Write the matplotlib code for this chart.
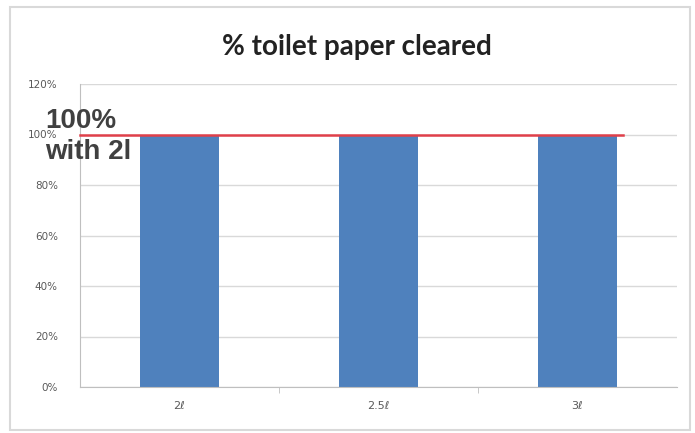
import matplotlib
matplotlib.use("Agg")
import matplotlib.pyplot as plt
from matplotlib.patches import Rectangle

categories = ["2ℓ", "2.5ℓ", "3ℓ"]
values = [100, 100, 100]
yticks = [0, 20, 40, 60, 80, 100, 120]
ref_value = 100

fig = plt.figure(figsize=(6.95, 4.33), dpi=100)
fig.patch.set_facecolor("white")
fig.patches.append(Rectangle((10/695, 1-430/433), 680/695, 423/433, transform=fig.transFigure,
                             fill=False, edgecolor="#d9d9d9", linewidth=1.5))

ax = fig.add_axes([80/695, 1-387/433, 597/695, 303/433])
x = list(range(len(categories)))
ax.bar(x, values, width=0.4, color="#4f81bd", zorder=2)
ax.set_xlim(-0.5, 2.5)
ax.set_ylim(0, 120)
ax.set_yticks(yticks)
ax.set_yticklabels([f"{t}%" for t in yticks], fontsize=7.5, color="#595959", family="DejaVu Sans")
ax.set_xticks(x)
ax.set_xticklabels(categories, fontsize=8, color="#595959")
ax.tick_params(axis="x", length=0, pad=10)
ax.tick_params(axis="y", length=0, pad=16)
ax.set_xticks([0.5, 1.5], minor=True)
ax.tick_params(axis="x", which="minor", length=4, color="#bfbfbf")
ax.grid(axis="y", color="#d9d9d9", linewidth=1, zorder=0)
for s in ["top", "right"]:
    ax.spines[s].set_visible(False)
for s in ["left", "bottom"]:
    ax.spines[s].set_color("#bfbfbf")

ax.plot([-0.5, 2.23], [ref_value, ref_value], color="#e0404a", linewidth=1.8, zorder=3, clip_on=False)

fig.text(357/695, 1-47/433, "% toilet paper cleared", ha="center", va="center",
         fontsize=20, fontweight="bold", family="Lato", color="#222222")
fig.text(45/695, 1-121/433, "100%", ha="left", va="center", fontsize=20,
         fontweight="bold", family="Liberation Sans", color="#404040")
fig.text(45/695, 1-152/433, "with 2l", ha="left", va="center", fontsize=20,
         fontweight="bold", family="Liberation Sans", color="#404040")

fig.savefig("out.png", dpi=100)
